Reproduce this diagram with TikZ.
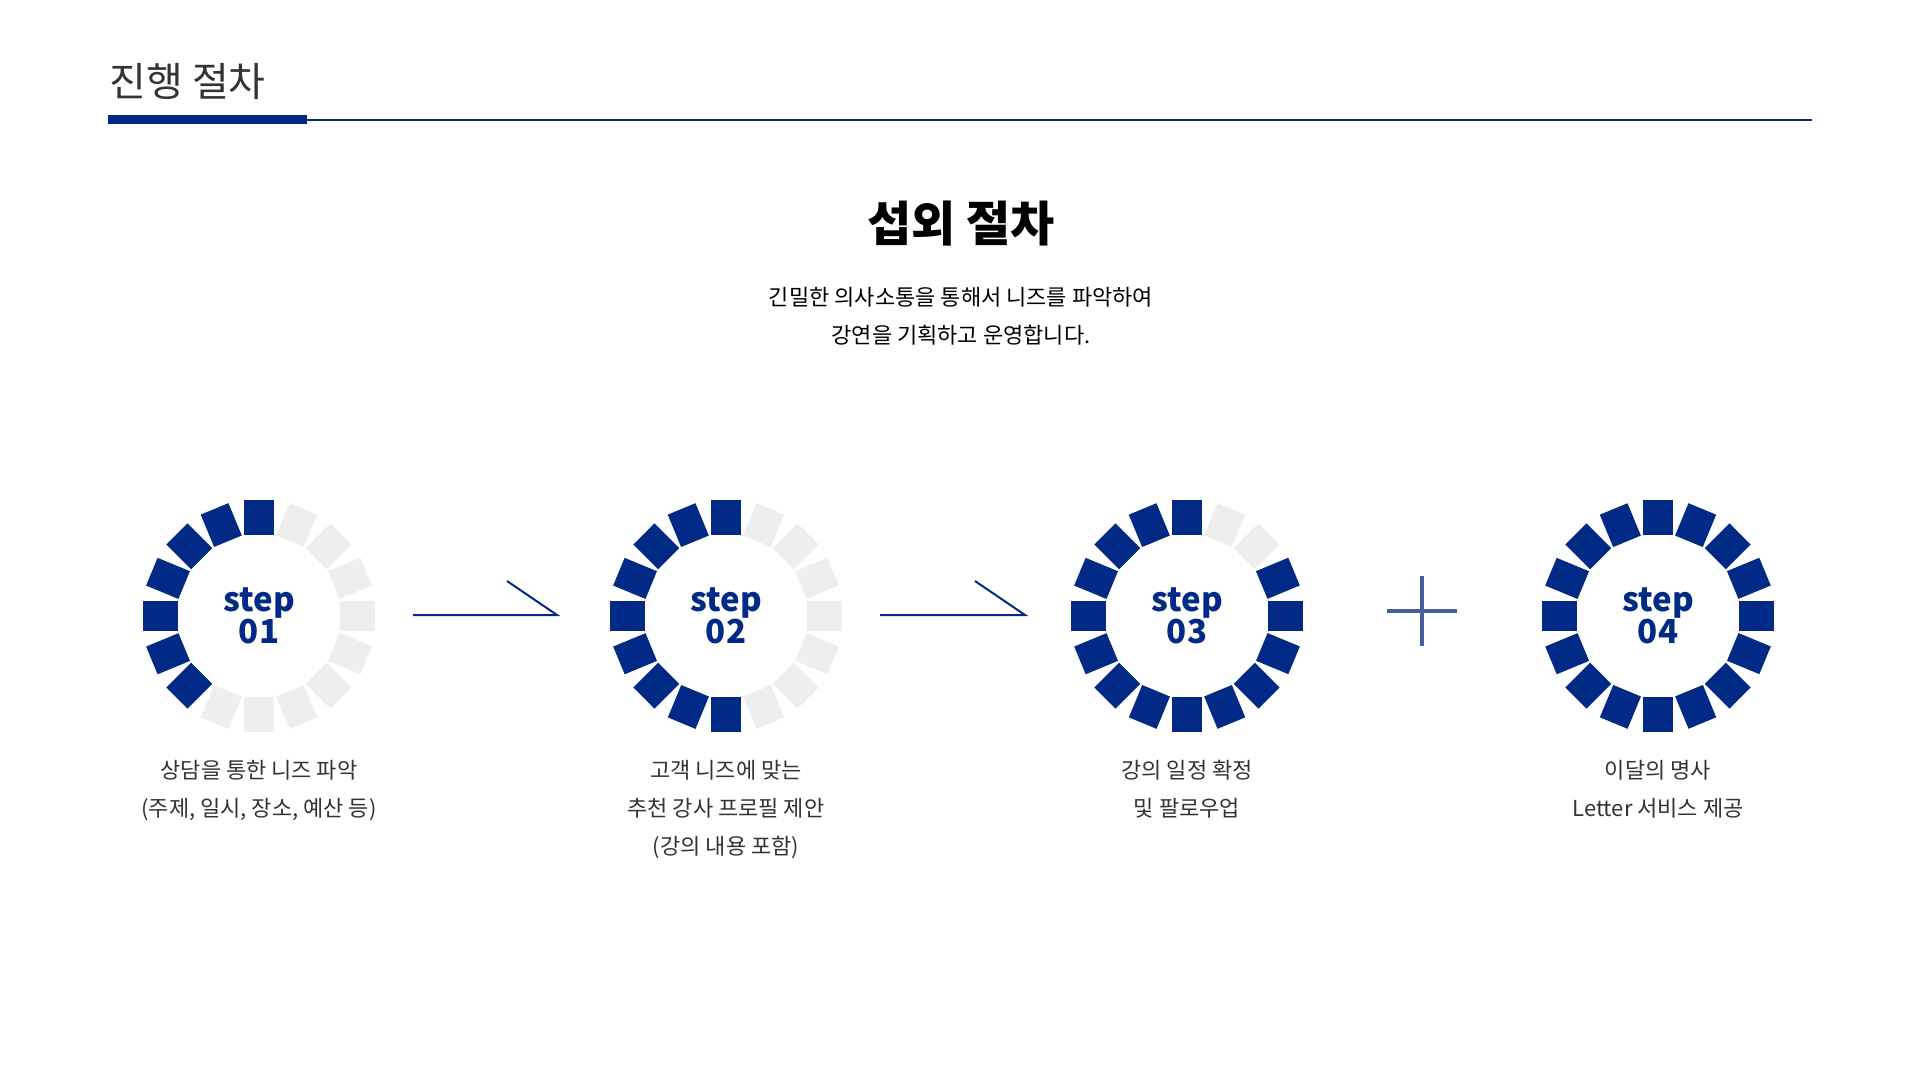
\documentclass[tikz,border=0pt]{standalone}
\usepackage{fontspec}
\setmainfont{Noto Sans CJK KR}
\newfontfamily\kr{Noto Sans CJK KR}
\definecolor{navy}{HTML}{002A85}
\definecolor{segg}{HTML}{EEEEEE}
\definecolor{txt}{HTML}{333333}
\definecolor{plusc}{HTML}{4A5E9E}
\tikzset{
  lbl/.style={font=\fontsize{22}{38}\selectfont, text=txt, align=center},
  steptxt/.style={font=\fontsize{33}{36}\selectfont\bfseries, text=navy, align=center},
  arr/.style={draw=navy, line width=2pt},
}
\newcommand{\gauge}[3]{% name, x, number of blue
  \coordinate (#1) at (#2,616);
  \foreach \i in {0,...,15}{
    \pgfmathsetmacro{\ang}{90+22.5*\i}
    \pgfmathsetmacro{\isblue}{\i<#3 ? 1 : 0}
    \ifdim\isblue pt>0.5pt \def\fc{navy}\else\def\fc{segg}\fi
    \fill[\fc, rotate around={\ang:(#1)}] ($(#1)+(81,-15)$) rectangle ($(#1)+(116,15)$);
  }
}
\usetikzlibrary{calc}
\begin{document}
\begin{tikzpicture}[x=1pt,y=-1pt]
\useasboundingbox (0,0) rectangle (1920,1080);
\fill[white] (0,0) rectangle (1920,1080);
% header
\node[anchor=west, font=\fontsize{40}{40}\selectfont, text=txt] (hdr) at (106,82) {진행 절차};
\draw[navy, line width=1.5pt] (108,120) -- (1812,120);
\fill[navy] (108,115) rectangle (307,124);
% title
\node[font=\fontsize{48}{48}\selectfont\bfseries] (title) at (961,224) {섭외 절차};
\node[font=\fontsize{22}{38}\selectfont, text=black, align=center] (sub) at (961,316) {긴밀한 의사소통을 통해서 니즈를 파악하여\\강연을 기획하고 운영합니다.};
% gauges
\gauge{g1}{259}{7}
\gauge{g2}{726}{9}
\gauge{g3}{1187}{14}
\gauge{g4}{1658}{16}
\foreach \g/\n in {g1/01,g2/02,g3/03,g4/04}{
  \node[steptxt] (t\g) at (\g) {step\\[-4pt]\n};
}
% arrows
\coordinate (a1s) at (413,615); \coordinate (a1e) at (557,615); \coordinate (a1k) at (507,581);
\coordinate (a2s) at (880,615); \coordinate (a2e) at (1025,615); \coordinate (a2k) at (975,581);
\draw[arr] (a1s) -- (a1e) -- (a1k);
\draw[arr] (a2s) -- (a2e) -- (a2k);
% plus
\coordinate (pc) at (1422,611);
\draw[plusc, line width=4pt] ($(pc)+(-35,0)$) -- ($(pc)+(35,0)$) ($(pc)+(0,-35)$) -- ($(pc)+(0,35)$);
% labels
\node[lbl, anchor=north] (l1) at (259,757) {상담을 통한 니즈 파악\\(주제, 일시, 장소, 예산 등)};
\node[lbl, anchor=north] (l2) at (726,757) {고객 니즈에 맞는\\추천 강사 프로필 제안\\(강의 내용 포함)};
\node[lbl, anchor=north] (l3) at (1187,757) {강의 일정 확정\\및 팔로우업};
\node[lbl, anchor=north] (l4) at (1658,757) {이달의 명사\\Letter 서비스 제공};
\end{tikzpicture}
\end{document}
